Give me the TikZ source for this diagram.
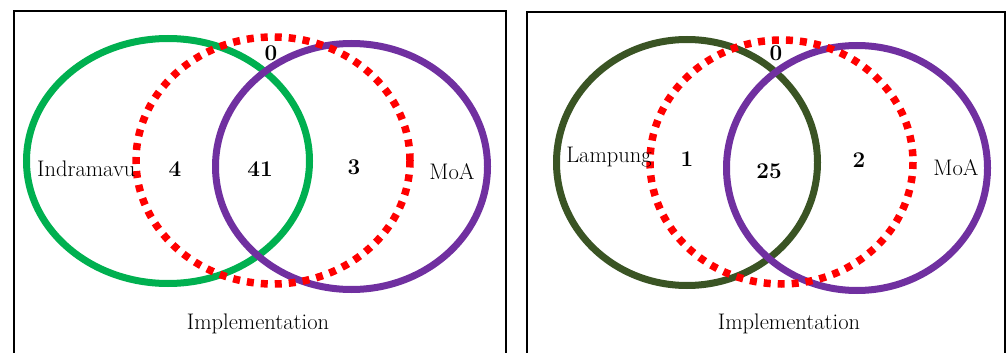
\documentclass[tikz,border=0pt]{standalone}
\usetikzlibrary{shapes.geometric}
\definecolor{vgreen}{HTML}{00B050}
\definecolor{vdgreen}{HTML}{3A5424}
\definecolor{vpurple}{HTML}{7030A0}
\definecolor{vred}{HTML}{FF0000}
\tikzset{
  panel/.style={line width=2pt, black},
  setring/.style={line width=7pt},
  implring/.style={line width=7.5pt, vred, dash pattern=on 7pt off 7pt},
  lbl/.style={inner sep=0pt, anchor=base, font=\fontsize{22.5}{26}\selectfont},
  num/.style={lbl, font=\fontsize{22.5}{26}\selectfont\bfseries},
}
\begin{document}
\begin{tikzpicture}[x=1pt,y=-1pt]
\useasboundingbox (0,0) rectangle (1007,353);
% panels
\draw[panel] (14,354) -- (14,11) -- (506,11) -- (506,354);
\draw[panel] (527,354) -- (527,12) -- (1005,12) -- (1005,354);
% left venn
\draw[setring, vgreen] (168,161) ellipse [x radius=141.5, y radius=122.5];
\draw[setring, vpurple] (351.5,166.5) ellipse [x radius=136, y radius=123];
\draw[implring] (273,160.5) ellipse [x radius=137, y radius=123.5];
\node[lbl, anchor=base west] (indr) at (37,176) {Indramavu};
\node[num] (l4) at (175,176) {4};
\node[num] (l41) at (260,176) {41};
\node[num] (l3) at (354,174) {3};
\node[lbl] (lmoa) at (452,179) {MoA};
\node[num] (l0) at (271,61) {0};
\node[lbl] (limpl) at (258,329) {Implementation};
% right venn
\draw[setring, vdgreen] (687,162.5) ellipse [x radius=130.5, y radius=123];
\draw[setring, vpurple] (857,168) ellipse [x radius=130.5, y radius=122.5];
\draw[implring] (781.5,162) ellipse [x radius=131.5, y radius=122];
\node[lbl] (lamp) at (609,162) {Lampung};
\node[num] (r1) at (687,166) {1};
\node[num] (r25) at (769,178) {25};
\node[num] (r2) at (859,167) {2};
\node[lbl] (rmoa) at (956,175) {MoA};
\node[num] (r0) at (776,61) {0};
\node[lbl] (rimpl) at (789,329) {Implementation};
\end{tikzpicture}
\end{document}
